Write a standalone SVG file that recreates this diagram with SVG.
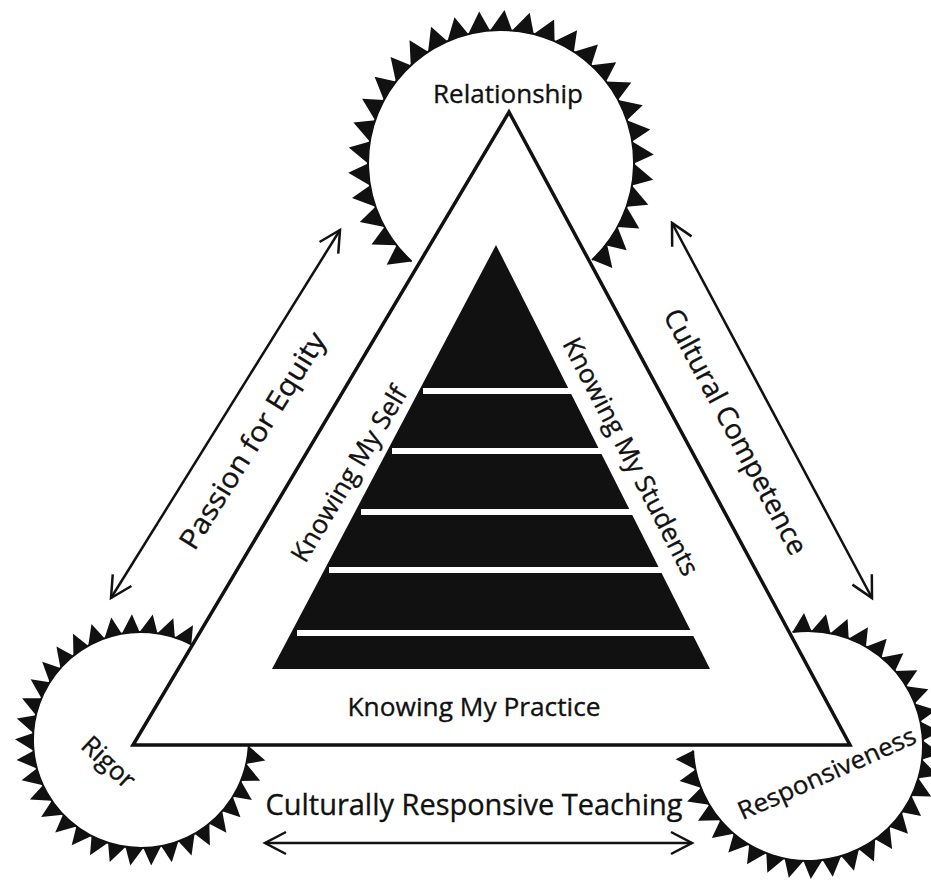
<svg xmlns="http://www.w3.org/2000/svg" width="931" height="881" viewBox="0 0 931 881">
<style>
text { font-family: "Open Sans", "Noto Sans", "DejaVu Sans", sans-serif; fill: #111; stroke: #111; stroke-width: 0.35; }
.tooth { fill: #111; }
.rim { fill: none; stroke: #111; stroke-width: 2; }
.arrow { fill: none; stroke: #111; stroke-width: 2.5; marker-start: url(#ah); marker-end: url(#ah); }
.stripe { stroke: #fff; stroke-width: 6; }
</style>
<defs>
<marker id="ah" markerUnits="userSpaceOnUse" viewBox="-26 -14 30 28" refX="0" refY="0" markerWidth="30" markerHeight="28" orient="auto-start-reverse">
<path d="M-21,-11 L0,0 L-21,11" fill="none" stroke="#111" stroke-width="2.5"/>
</marker>
<polygon id="t1" class="tooth" points="-11.01,-132.54 3.5,-153 11.01,-132.54"/>
<polygon id="t2" class="tooth" points="-8.94,-107.63 3,-126 8.94,-107.63"/>
<polygon id="t3" class="tooth" points="-9.52,-114.6 3,-133 9.52,-114.6"/>
</defs>
<rect width="931" height="881" fill="#fff"/>

<g id="relationship">
<path class="rim" d="M411.6,261.4 A133,133 0 1 1 592.1,259.9"/>
<g transform="translate(501 163)">
<use href="#t1" transform="rotate(-133)"/><use href="#t1" transform="rotate(-123.5)"/><use href="#t1" transform="rotate(-114)"/><use href="#t1" transform="rotate(-104.5)"/>
<use href="#t1" transform="rotate(-95)"/><use href="#t1" transform="rotate(-85.5)"/><use href="#t1" transform="rotate(-76)"/><use href="#t1" transform="rotate(-66.5)"/>
<use href="#t1" transform="rotate(-57)"/><use href="#t1" transform="rotate(-47.5)"/><use href="#t1" transform="rotate(-38)"/><use href="#t1" transform="rotate(-28.5)"/>
<use href="#t1" transform="rotate(-19)"/><use href="#t1" transform="rotate(-9.5)"/><use href="#t1" transform="rotate(0)"/><use href="#t1" transform="rotate(9.5)"/>
<use href="#t1" transform="rotate(19)"/><use href="#t1" transform="rotate(28.5)"/><use href="#t1" transform="rotate(38)"/><use href="#t1" transform="rotate(47.5)"/>
<use href="#t1" transform="rotate(57)"/><use href="#t1" transform="rotate(66.5)"/><use href="#t1" transform="rotate(76)"/><use href="#t1" transform="rotate(85.5)"/>
<use href="#t1" transform="rotate(95)"/><use href="#t1" transform="rotate(104.5)"/><use href="#t1" transform="rotate(114)"/><use href="#t1" transform="rotate(123.5)"/>
<use href="#t1" transform="rotate(132)"/>
</g>
<text x="508" y="103" text-anchor="middle" font-size="26" textLength="150" lengthAdjust="spacingAndGlyphs">Relationship</text>
</g>

<g id="rigor">
<path class="rim" d="M248.8,746.1 A108,108 0 1 1 191.3,644.4"/>
<g transform="translate(141 740)">
<use href="#t2" transform="rotate(23)"/><use href="#t2" transform="rotate(13.5)"/><use href="#t2" transform="rotate(4)"/><use href="#t2" transform="rotate(-5.5)"/>
<use href="#t2" transform="rotate(-15)"/><use href="#t2" transform="rotate(-24.5)"/><use href="#t2" transform="rotate(-34)"/><use href="#t2" transform="rotate(-43.5)"/>
<use href="#t2" transform="rotate(-53)"/><use href="#t2" transform="rotate(-62.5)"/><use href="#t2" transform="rotate(-72)"/><use href="#t2" transform="rotate(-81.5)"/>
<use href="#t2" transform="rotate(-91)"/><use href="#t2" transform="rotate(-100.5)"/><use href="#t2" transform="rotate(-110)"/><use href="#t2" transform="rotate(-119.5)"/>
<use href="#t2" transform="rotate(-129)"/><use href="#t2" transform="rotate(-138.5)"/><use href="#t2" transform="rotate(-148)"/><use href="#t2" transform="rotate(-157.5)"/>
<use href="#t2" transform="rotate(-167)"/><use href="#t2" transform="rotate(-176.5)"/><use href="#t2" transform="rotate(-186)"/><use href="#t2" transform="rotate(-195.5)"/>
<use href="#t2" transform="rotate(-205)"/><use href="#t2" transform="rotate(-214.5)"/><use href="#t2" transform="rotate(-224)"/><use href="#t2" transform="rotate(-233.5)"/>
<use href="#t2" transform="rotate(-243)"/><use href="#t2" transform="rotate(-252.5)"/><use href="#t2" transform="rotate(-262)"/>
</g>
</g>

<g id="responsiveness">
<path class="rim" d="M792.5,632 A115,115 0 1 1 693.1,750.5"/>
<g transform="translate(808 746)">
<use href="#t3" transform="rotate(-3)"/><use href="#t3" transform="rotate(6.5)"/><use href="#t3" transform="rotate(16)"/><use href="#t3" transform="rotate(25.5)"/>
<use href="#t3" transform="rotate(35)"/><use href="#t3" transform="rotate(44.5)"/><use href="#t3" transform="rotate(54)"/><use href="#t3" transform="rotate(63.5)"/>
<use href="#t3" transform="rotate(73)"/><use href="#t3" transform="rotate(82.5)"/><use href="#t3" transform="rotate(92)"/><use href="#t3" transform="rotate(101.5)"/>
<use href="#t3" transform="rotate(111)"/><use href="#t3" transform="rotate(120.5)"/><use href="#t3" transform="rotate(130)"/><use href="#t3" transform="rotate(139.5)"/>
<use href="#t3" transform="rotate(149)"/><use href="#t3" transform="rotate(158.5)"/><use href="#t3" transform="rotate(168)"/><use href="#t3" transform="rotate(177.5)"/>
<use href="#t3" transform="rotate(187)"/><use href="#t3" transform="rotate(196.5)"/><use href="#t3" transform="rotate(206)"/><use href="#t3" transform="rotate(215.5)"/>
<use href="#t3" transform="rotate(225)"/><use href="#t3" transform="rotate(234.5)"/><use href="#t3" transform="rotate(244)"/><use href="#t3" transform="rotate(253.5)"/>
<use href="#t3" transform="rotate(263)"/>
</g>
</g>

<g id="outer-triangle">
<polygon points="509,112 850,745 133,745" fill="#fff" stroke="#111" stroke-width="3.5"/>
<text transform="translate(350 474.5) rotate(-59)" x="0" y="8" text-anchor="middle" font-size="26" textLength="200" lengthAdjust="spacingAndGlyphs">Knowing My Self</text>
<text transform="translate(630 457) rotate(62.5)" x="0" y="8" text-anchor="middle" font-size="26" textLength="264" lengthAdjust="spacingAndGlyphs">Knowing My Students</text>
<text x="474" y="716" text-anchor="middle" font-size="26" textLength="253" lengthAdjust="spacingAndGlyphs">Knowing My Practice</text>
</g>

<g id="pyramid">
<polygon points="496,245 710,669 272,669" fill="#111"/>
<line class="stripe" x1="423" y1="391" x2="572" y2="391"/>
<line class="stripe" x1="392" y1="451" x2="602" y2="451"/>
<line class="stripe" x1="361" y1="512" x2="633" y2="512"/>
<line class="stripe" x1="329" y1="570" x2="662" y2="570"/>
<line class="stripe" x1="297" y1="633" x2="694" y2="633"/>
</g>

<g id="rigor-label">
<text transform="translate(108 763) rotate(43)" x="0" y="8" text-anchor="middle" font-size="26">Rigor</text>
</g>
<g id="responsiveness-label">
<text transform="translate(827 774) rotate(-24)" x="0" y="8" text-anchor="middle" font-size="25" textLength="192" lengthAdjust="spacingAndGlyphs">Responsiveness</text>
</g>

<g id="connectors">
<line class="arrow" x1="111" y1="598" x2="340" y2="230"/>
<line class="arrow" x1="672" y1="223" x2="872" y2="598"/>
<line class="arrow" x1="265" y1="843" x2="692" y2="843"/>
<text transform="translate(253 441) rotate(-58)" x="0" y="9" text-anchor="middle" font-size="28" textLength="250" lengthAdjust="spacingAndGlyphs">Passion for Equity</text>
<text transform="translate(735 432) rotate(62)" x="0" y="9" text-anchor="middle" font-size="28" textLength="274" lengthAdjust="spacingAndGlyphs">Cultural Competence</text>
<text x="474" y="815" text-anchor="middle" font-size="29" textLength="417" lengthAdjust="spacingAndGlyphs">Culturally Responsive Teaching</text>
</g>
</svg>
